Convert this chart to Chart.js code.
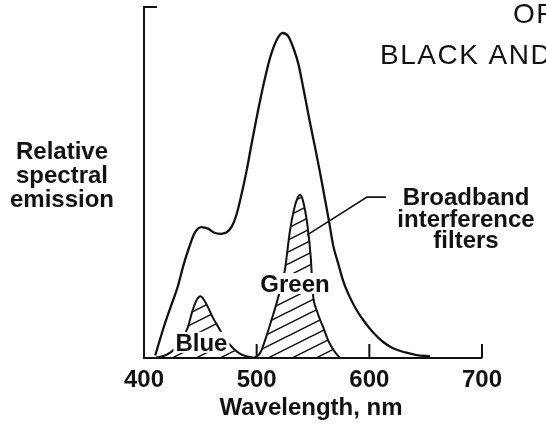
<!DOCTYPE html>
<html>
<head>
  <title>Relative spectral emission</title>
  <script src="https://cdn.jsdelivr.net/npm/chart.js"></script>
  <style>
    html, body { margin: 0; padding: 0; background: #fff; }
    canvas { display: block; }
  </style>
</head>
<body>
  <canvas id="emissionChart" width="546" height="426"></canvas>
  <script>
    // phosphor emission (peak = 100)
    const mainWavelengths = [410, 418, 425, 430, 435, 440, 445, 451, 457, 462, 468, 473, 478, 482, 486, 491, 495, 500, 506, 512, 518, 523, 528, 533, 537, 542, 547, 552, 556, 560, 564, 568, 572, 577, 583, 590, 596, 603, 612, 621, 632, 642, 654];
    const mainEmission = [0.8, 10, 17, 22, 28.5, 34, 38.5, 40.3, 39.8, 38.6, 38.2, 38.6, 40.5, 44, 49.5, 57.5, 65, 74, 84, 92.5, 98, 100, 99, 95, 90.5, 82, 73, 64.5, 57.5, 50, 42.5, 34.5, 29.5, 23.5, 18.5, 14, 11, 8, 5, 3, 1.7, 0.9, 0.5];

    // blue broadband filter output
    const blueWavelengths = [410, 420, 428, 434, 439, 443, 447, 450, 453, 457, 461, 466, 472, 478, 484, 490, 500];
    const blueEmission = [0, 1, 3, 6, 9.5, 14.5, 18, 19, 18, 15.5, 12.5, 9.5, 6, 3.4, 1.6, 0.6, 0];

    // green broadband filter output
    const greenWavelengths = [498, 503, 507.5, 513, 519, 525, 529.5, 533, 536, 538.5, 541, 545, 548, 550, 553, 559, 564, 569.5, 574];
    const greenEmission = [0, 1.5, 5.5, 11.5, 18.5, 27, 39, 45.5, 49, 50.2, 48.5, 41, 31, 19.5, 15, 9.5, 5, 1.8, 0];

    const tickLabels = [400, 500, 600, 700];
    const xTitle = 'Wavelength, nm';
    const yTitleLines = ['Relative', 'spectral', 'emission'];
    const filterNoteLines = ['Broadband', 'interference', 'filters'];
    const stampLines = ['OR', 'BLACK AND'];

    const toPoints = (xs, ys) => xs.map((v, i) => ({ x: v, y: ys[i] }));

    // diagonal hatching for the filter areas
    function hatch() {
      const c = document.createElement('canvas');
      c.width = 24; c.height = 12;
      const g = c.getContext('2d');
      g.strokeStyle = '#111';
      g.lineWidth = 1.5;
      for (let k = -1; k <= 1; k++) {
        g.beginPath();
        g.moveTo(-24, 24 + k * 12);
        g.lineTo(48, -12 + k * 12);
        g.stroke();
      }
      return g.createPattern(c, 'repeat');
    }
    const hatchFill = hatch();

    const ink = '#111';
    const boldFont = 'bold 24px "Liberation Sans", Arial, sans-serif';

    function label(ctx, text, cx, base, clear) {
      ctx.font = boldFont;
      if (clear) {
        const w = ctx.measureText(text).width;
        ctx.fillStyle = '#fff';
        ctx.fillRect(cx - w / 2 - 2, base - 19, w + 4, 21);
      }
      ctx.fillStyle = ink;
      ctx.fillText(text, cx, base);
    }

    const annotate = {
      id: 'annotate',
      afterDatasetsDraw(chart) {
        const { ctx, chartArea: a, scales: { x, y } } = chart;
        ctx.save();
        ctx.strokeStyle = ink;
        ctx.lineWidth = 2;

        // frame: bracket top, left axis, baseline
        ctx.beginPath();
        ctx.moveTo(a.left + 13, a.top);
        ctx.lineTo(a.left, a.top);
        ctx.lineTo(a.left, a.bottom);
        ctx.lineTo(a.right, a.bottom);
        ctx.stroke();

        // inward ticks
        tickLabels.slice(1).forEach(v => {
          const px = x.getPixelForValue(v);
          ctx.beginPath();
          ctx.moveTo(px, a.bottom);
          ctx.lineTo(px, a.bottom - 14);
          ctx.stroke();
        });

        // leader to the filter note
        ctx.lineWidth = 1.6;
        ctx.beginPath();
        ctx.moveTo(x.getPixelForValue(544.6), y.getPixelForValue(37.8));
        ctx.lineTo(x.getPixelForValue(597.9), y.getPixelForValue(49.5));
        ctx.lineTo(x.getPixelForValue(614.7), y.getPixelForValue(49.5));
        ctx.stroke();

        ctx.textAlign = 'center';
        ctx.textBaseline = 'alphabetic';

        // filter names on white
        label(ctx, 'Blue', x.getPixelForValue(451), y.getPixelForValue(2.2), true);
        label(ctx, 'Green', x.getPixelForValue(534), y.getPixelForValue(20.3), true);

        // tick labels and axis title
        tickLabels.forEach(v => label(ctx, String(v), x.getPixelForValue(v), 387));
        label(ctx, xTitle, 311, 415);

        yTitleLines.forEach((t, i) => label(ctx, t, 62, 159 + i * 24));
        filterNoteLines.forEach((t, i) => label(ctx, t, 466, 205 + i * 21.5));

        // stamp text at the top right, cut by the edge
        ctx.textAlign = 'left';
        ctx.font = '28px "Liberation Sans", Arial, sans-serif';
        ctx.letterSpacing = '1.5px';
        ctx.fillStyle = ink;
        ctx.fillText(stampLines[0], 513, 23);
        ctx.fillText(stampLines[1], 380, 64);

        ctx.restore();
      }
    };

    const line = {
      borderColor: ink,
      borderWidth: 2,
      pointRadius: 0,
      cubicInterpolationMode: 'monotone'
    };

    new Chart(document.getElementById('emissionChart'), {
      type: 'line',
      data: {
        datasets: [
          Object.assign({ label: 'Blue', data: toPoints(blueWavelengths, blueEmission), fill: 'origin', backgroundColor: hatchFill }, line),
          Object.assign({ label: 'Green', data: toPoints(greenWavelengths, greenEmission), fill: 'origin', backgroundColor: hatchFill }, line),
          Object.assign({ label: 'Emission', data: toPoints(mainWavelengths, mainEmission), fill: false }, line, { borderWidth: 2.3 })
        ]
      },
      options: {
        responsive: false,
        animation: false,
        layout: { padding: { left: 144, right: 64, top: 7, bottom: 68 } },
        plugins: { legend: { display: false }, tooltip: { enabled: false } },
        scales: {
          x: { type: 'linear', min: 400, max: 700, display: false },
          y: { min: 0, max: 108, display: false }
        }
      },
      plugins: [annotate]
    });
  </script>
</body>
</html>
